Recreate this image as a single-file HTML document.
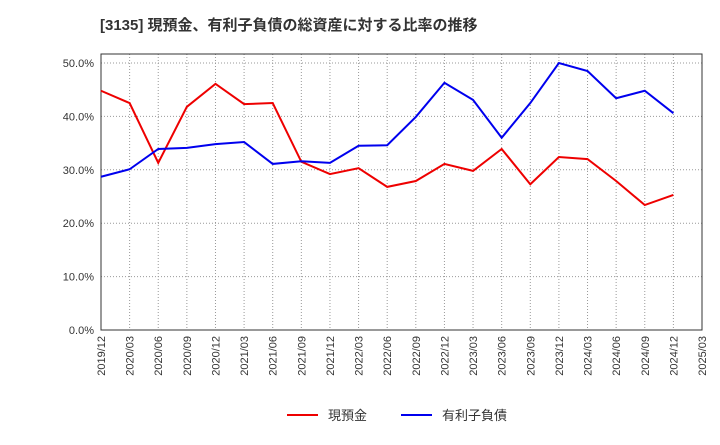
<!DOCTYPE html>
<html><head><meta charset="utf-8"><style>
body{margin:0;background:#fff;font-family:"Liberation Sans","Noto Sans CJK JP",sans-serif}
</style></head><body>
<svg id="c" width="720" height="440" xmlns="http://www.w3.org/2000/svg"></svg>
<script>
const categories=["2019/12","2020/03","2020/06","2020/09","2020/12","2021/03","2021/06","2021/09","2021/12","2022/03","2022/06","2022/09","2022/12","2023/03","2023/06","2023/09","2023/12","2024/03","2024/06","2024/09","2024/12","2025/03"];
const cashValues=[44.8,42.5,31.3,41.8,46.1,42.3,42.5,31.5,29.2,30.3,26.8,27.9,31.1,29.8,33.9,27.3,32.4,32.0,27.9,23.4,25.3];
const debtValues=[28.7,30.1,33.9,34.1,34.8,35.2,31.1,31.6,31.3,34.5,34.6,39.9,46.3,43.1,36.0,42.5,50.0,48.5,43.4,44.8,40.6];
const yTicks=[0,10,20,30,40,50];
const yTickLabels=["0.0%","10.0%","20.0%","30.0%","40.0%","50.0%"];
const NS="http://www.w3.org/2000/svg",svg=document.getElementById('c');
const L=101,R=702,T=54,B=330;
const x=i=>L+i*(R-L)/(categories.length-1);
const y=v=>B-v*(B-63)/50;
function mk(t,a,txt){const e=document.createElementNS(NS,t);for(const k in a)e.setAttribute(k,a[k]);if(txt!==undefined)e.textContent=txt;svg.appendChild(e);return e;}
let e=mk('text',{x:100,y:30,'font-size':15,'font-weight':'bold',fill:'#333'},'[3135]  現預金、有利子負債の総資産に対する比率の推移');


yTicks.forEach((v,i)=>{
 e=mk('line',{x1:L,x2:R,y1:y(v),y2:y(v),stroke:'#999','stroke-dasharray':'1,2'});
 
 
 e=mk('text',{x:L-7,y:y(v)+4,'text-anchor':'end','font-size':11,fill:'#333'},yTickLabels[i]);
 
 
});
categories.forEach((c,i)=>{
 e=mk('line',{x1:x(i),x2:x(i),y1:T,y2:B,stroke:'#999','stroke-dasharray':'1,2'});
 
 
 e=mk('text',{transform:`translate(${x(i)+4},${B+6}) rotate(-90)`,'text-anchor':'end','font-size':11,fill:'#333'},c);
 
 
});
e=mk('rect',{x:L,y:T,width:R-L,height:B-T,fill:'none',stroke:'#333'});


function line(vals,col,name){
 const d=vals.map((v,i)=>(i?'L':'M')+x(i)+','+y(v)).join('');
 const p=mk('path',{d:d,fill:'none',stroke:col,'stroke-width':2});
 
 
}
line(cashValues,'#e00','cash-line');
line(debtValues,'#00e','debt-line');
e=mk('line',{x1:287,x2:318,y1:415,y2:415,stroke:'#e00','stroke-width':2});


e=mk('text',{x:328,y:420,'font-size':13,fill:'#333'},'現預金');


e=mk('line',{x1:401,x2:432,y1:415,y2:415,stroke:'#00e','stroke-width':2});


e=mk('text',{x:442,y:420,'font-size':13,fill:'#333'},'有利子負債');


</script>
</body></html>
